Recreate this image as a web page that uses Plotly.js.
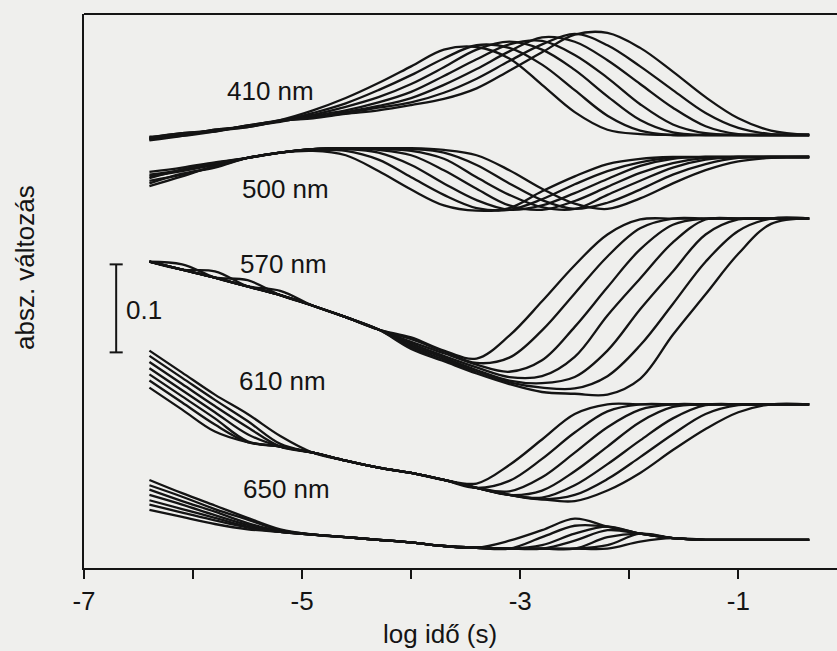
<!DOCTYPE html>
<html>
<head>
<meta charset="utf-8">
<script src="https://cdn.plot.ly/plotly-3.0.1.min.js"></script>
<style>html,body{margin:0;padding:0;background:#efefed;}#chart{width:837px;height:651px;}</style>
</head>
<body>
<div id="chart"></div>
<script>
// log time grid (s)
const logTime = [-6.4,-6.1,-5.8,-5.5,-5.2,-4.9,-4.6,-4.3,-4.0,-3.7,-3.4,-3.1,-2.8,-2.5,-2.2,-1.9,-1.6,-1.3,-1.0,-0.7,-0.35];

const wavelengths = ['410 nm','500 nm','570 nm','610 nm','650 nm'];
// vertical display offsets of each wavelength family (absorbance)
const offsets = [0.492, 0.467, 0.397, 0.186, 0.032];

// absorbance changes in mOD relative to the final level, 7 traces per wavelength
const a410 = [
  [-5,0,5,10,17,28,42,59,78,97,100,87,57,26,6,1,0,0,0,0,0],
  [-3,2,4,11,16,25,36,51,68,87,102,99,80,51,22,5,0,0,0,0,0],
  [-6,-1,6,9,16,23,32,43,58,77,97,106,97,74,44,17,3,0,0,0,0],
  [-4,1,5,10,15,22,28,37,49,67,86,103,107,91,65,35,12,2,0,0,0],
  [-2,-1,4,11,16,20,26,33,42,57,75,95,111,106,85,58,31,10,1,0,0],
  [-5,0,6,10,17,20,25,31,37,48,64,84,103,115,102,78,51,25,8,1,0],
  [-3,2,5,9,16,19,24,28,34,41,53,73,94,114,116,99,72,43,19,5,0]
];
const a500 = [
  [-20,-15,-8,-1,5,7,2,-16,-37,-55,-61,-58,-39,-22,-8,-2,0,0,0,0,0],
  [-27,-20,-11,-1,5,8,7,-3,-23,-43,-58,-60,-48,-31,-16,-6,-1,0,0,0,0],
  [-17,-12,-6,-1,5,9,9,5,-9,-30,-49,-60,-55,-41,-25,-10,-2,0,0,0,0],
  [-30,-19,-12,-1,5,9,10,8,2,-15,-36,-55,-60,-50,-34,-18,-7,-1,0,0,0],
  [-22,-16,-9,-1,5,9,10,9,7,-2,-23,-43,-57,-59,-43,-27,-12,-3,0,0,0],
  [-33,-22,-10,-1,5,9,10,10,9,5,-9,-30,-49,-59,-52,-37,-20,-8,-1,0,0],
  [-24,-14,-7,-1,5,9,10,10,10,8,2,-15,-36,-53,-59,-47,-30,-15,-5,-1,0]
];
const a570 = [
  [-49,-58,-67,-77,-87,-99,-112,-126,-135,-150,-159,-133,-94,-53,-18,-1,0,0,0,0,0],
  [-49,-58,-67,-77,-82,-99,-112,-126,-137,-151,-164,-158,-127,-85,-43,-11,0,0,0,0,0],
  [-49,-52,-67,-77,-87,-99,-112,-126,-140,-153,-166,-174,-161,-123,-78,-35,-7,0,0,0,0],
  [-49,-58,-67,-77,-87,-99,-112,-126,-142,-156,-169,-180,-179,-157,-110,-68,-27,-1,0,0,0],
  [-49,-58,-60,-77,-87,-99,-112,-126,-144,-158,-172,-184,-187,-180,-150,-103,-60,-18,-1,0,0],
  [-49,-58,-67,-70,-87,-99,-112,-126,-146,-160,-174,-186,-192,-193,-179,-144,-97,-49,-14,0,0],
  [-49,-58,-67,-77,-87,-99,-112,-126,-148,-162,-176,-188,-197,-199,-200,-182,-132,-86,-40,-6,0]
];
const a610 = [
  [61,36,11,-11,-36,-55,-64,-72,-78,-86,-90,-69,-40,-11,0,0,0,0,0,0,0],
  [55,30,5,-19,-45,-55,-64,-72,-78,-86,-95,-87,-62,-32,-8,0,0,0,0,0,0],
  [48,23,-2,-26,-48,-55,-64,-72,-78,-86,-95,-99,-83,-55,-26,-6,0,0,0,0,0],
  [41,16,-9,-34,-48,-55,-64,-72,-78,-86,-95,-103,-98,-76,-48,-20,-3,0,0,0,0],
  [34,9,-16,-42,-48,-55,-64,-72,-78,-86,-95,-103,-106,-92,-68,-41,-16,-1,0,0,0],
  [27,2,-23,-43,-48,-55,-64,-72,-78,-86,-95,-103,-108,-103,-85,-60,-34,-11,-1,0,0],
  [19,-6,-31,-43,-48,-55,-64,-72,-78,-86,-95,-103,-108,-110,-98,-78,-52,-28,-9,0,0]
];
const a650 = [
  [68,53,39,25,12,6,3,0,-3,-7,-9,-1,11,24,15,7,2,0,0,0,0],
  [62,49,35,23,11,6,3,0,-3,-7,-9,-10,3,16,15,7,2,0,0,0,0],
  [57,44,32,19,10,6,3,0,-3,-7,-9,-10,-6,7,15,7,2,0,0,0,0],
  [51,40,28,17,9,6,3,0,-3,-7,-9,-10,-10,-1,11,7,2,0,0,0,0],
  [45,35,25,15,9,6,3,0,-3,-7,-9,-10,-10,-10,3,7,2,0,0,0,0],
  [40,31,22,14,9,6,3,0,-3,-7,-9,-10,-10,-10,-6,7,2,0,0,0,0],
  [34,26,18,12,9,6,3,0,-3,-7,-9,-10,-10,-10,-10,-2,2,0,0,0,0]
];
const families = [a410, a500, a570, a610, a650];

const xTickVals = [-7,-6,-5,-4,-3,-2,-1];
const xTickText = ['-7','','-5','','-3','','-1'];
const scaleBar = 0.1; // absorbance

const INK = '#141414';
const FONT = 'Liberation Sans, Arial, sans-serif';
const FS = 26;

const traces = [];
families.forEach((fam, f) => {
  fam.forEach((vals) => {
    traces.push({
      type: 'scatter', mode: 'lines',
      x: logTime,
      y: vals.map(v => offsets[f] + v / 1000),
      line: {color: INK, width: 2.3, shape: 'spline', smoothing: 1},
      hoverinfo: 'skip', showlegend: false
    });
  });
});

const W = 837, H = 651, ML = 84, MR = 0, MT = 14, MB = 83;
const pw = W - ML - MR, ph = H - MT - MB;
const px2paperX = p => (p - ML) / pw;
const px2paperY = p => (H - MB - p) / ph;

const labelPos = [[-5.29,0.542],[-5.15,0.431],[-5.17,0.346],[-5.18,0.213],[-5.14,0.090]];
const annotations = wavelengths.map((w, i) => ({
  x: labelPos[i][0], y: labelPos[i][1], xref: 'x', yref: 'y', xanchor: 'center', yanchor: 'middle',
  text: w, showarrow: false, font: {family: FONT, size: FS, color: INK}
}));
annotations.push({x: px2paperX(440), y: px2paperY(634), xref: 'paper', yref: 'paper',
  xanchor: 'center', yanchor: 'middle', text: 'log idő (s)', showarrow: false,
  font: {family: FONT, size: FS, color: INK}});
annotations.push({x: -6.45, y: 0.293, xref: 'x', yref: 'y', xanchor: 'center', yanchor: 'middle',
  text: '0.1', showarrow: false, font: {family: FONT, size: FS, color: INK}});
annotations.push({x: px2paperX(25), y: px2paperY(268), xref: 'paper', yref: 'paper',
  xanchor: 'center', yanchor: 'middle', text: 'absz. változás', textangle: -90, showarrow: false,
  font: {family: FONT, size: FS, color: INK}});

const barX = -6.705, barY0 = 0.245;
const shapes = [
  {type: 'line', xref: 'paper', yref: 'paper', x0: 0, x1: 1, y0: 1, y1: 1, line: {color: INK, width: 2}},
  {type: 'line', xref: 'x', yref: 'y', x0: barX, x1: barX, y0: barY0, y1: barY0 + scaleBar, line: {color: INK, width: 2}},
  {type: 'line', xref: 'x', yref: 'y', x0: barX - 0.06, x1: barX + 0.06, y0: barY0, y1: barY0, line: {color: INK, width: 2}},
  {type: 'line', xref: 'x', yref: 'y', x0: barX - 0.06, x1: barX + 0.06, y0: barY0 + scaleBar, y1: barY0 + scaleBar, line: {color: INK, width: 2}}
];

const layout = {
  width: W, height: H,
  margin: {l: ML, r: MR, t: MT, b: MB},
  paper_bgcolor: '#efefed', plot_bgcolor: '#efefed',
  showlegend: false,
  xaxis: {
    range: [-7, -0.095], tickvals: xTickVals, ticktext: xTickText,
    ticks: 'outside', ticklen: 9, tickwidth: 2, tickcolor: INK,
    showline: true, linewidth: 2, linecolor: INK,
    showgrid: false, zeroline: false,
    tickfont: {family: FONT, size: FS, color: INK}
  },
  yaxis: {
    range: [0, 0.6295], showline: true, linewidth: 2, linecolor: INK,
    showticklabels: false, ticks: '', showgrid: false, zeroline: false
  },
  annotations: annotations,
  shapes: shapes
};

Plotly.newPlot('chart', traces, layout, {displayModeBar: false, staticPlot: true});
</script>
</body>
</html>
